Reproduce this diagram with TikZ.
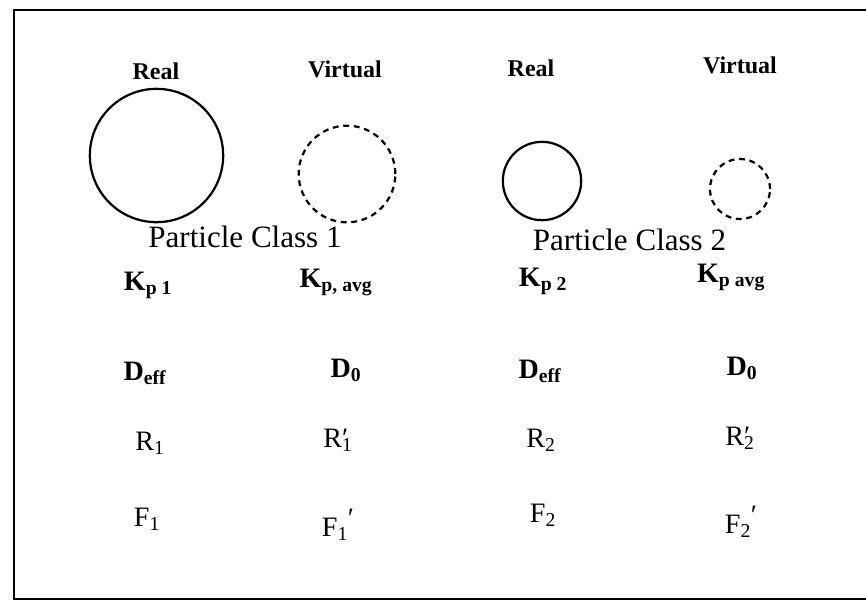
\documentclass[tikz,border=0pt]{standalone}
\usepackage{fontspec}
\setmainfont{Liberation Serif}
\usetikzlibrary{positioning}
\tikzset{
  head/.style={font=\fontsize{20.5}{24}\selectfont\bfseries},
  clsname/.style={font=\fontsize{26.5}{30}\selectfont},
  qty/.style={font=\fontsize{24}{28}\selectfont\bfseries,inner sep=0pt},
  qtyr/.style={font=\fontsize{24}{28}\selectfont,inner sep=0pt},
  realp/.style={circle,draw,line width=1.9pt,inner sep=0pt,outer sep=0pt},
  virtp/.style={circle,draw,line width=1.9pt,dash pattern=on 5pt off 4pt,inner sep=0pt,outer sep=0pt},
  frame/.style={line width=1.8pt}
}
\begin{document}
\begin{tikzpicture}[x=0.03cm,y=-0.03cm]
\useasboundingbox (0,0) rectangle (866,603);
% outer frame, open at the right
\coordinate (ftr) at (866,10);
\coordinate (ftl) at (14,10);
\coordinate (fbl) at (14,599);
\coordinate (fbr) at (866,599);
\draw[frame] (ftr) -- (ftl) -- (fbl) -- (fbr);

% column heads
\node[head,anchor=base] (real1) at (156,79) {Real};
\node[head,anchor=base] (virt1) at (345,77) {Virtual};
\node[head,anchor=base] (real2) at (531,76) {Real};
\node[head,anchor=base] (virt2) at (740,73) {Virtual};

% particles
\node[realp,minimum size=4.0cm] (ring1) at (156.5,155.5) {};
\node[virtp,minimum size=2.9cm] (vring1) at (347,174) {};
\node[realp,minimum size=2.35cm] (ring2) at (542,181) {};
\node[virtp,minimum size=1.8cm] (vring2) at (740,189) {};

% class names
\node[clsname,anchor=base] (class1) at (245,247) {Particle Class 1};
\node[clsname,anchor=base] (class2) at (629.5,250) {Particle Class 2};

% partition coefficients
\node[qty,anchor=base] (kp1) at (148,290) {K\textsubscript{p 1}};
\node[qty,anchor=base] (kpavg1) at (336,287) {K\textsubscript{p, avg}};
\node[qty,anchor=base] (kp2) at (543,286) {K\textsubscript{p 2}};
\node[qty,anchor=base] (kpavg2) at (731,282) {K\textsubscript{p avg}};

% diffusivities
\node[qty,anchor=base] (deff1) at (145,380) {D\textsubscript{eff}};
\node[qty,anchor=base] (dzero1) at (346,377) {D\textsubscript{0}};
\node[qty,anchor=base] (deff2) at (540,378) {D\textsubscript{eff}};
\node[qty,anchor=base] (dzero2) at (742,375) {D\textsubscript{0}};

% radii
\node[qtyr,anchor=base] (r1) at (150,450) {R\textsubscript{1}};
\node[qtyr,anchor=base] (rp1) at (338,447) {R\rlap{′}\textsubscript{1}};
\node[qtyr,anchor=base] (r2) at (541,447) {R\textsubscript{2}};
\node[qtyr,anchor=base] (rp2) at (740,445) {R\rlap{′}\textsubscript{2}};

% fractions
\node[qtyr,anchor=base] (f1) at (147,526) {F\textsubscript{1}};
\node[qtyr,anchor=base] (fp1) at (338,536) {F\textsubscript{1}\raisebox{0.3em}{′}};
\node[qtyr,anchor=base] (f2) at (543,522) {F\textsubscript{2}};
\node[qtyr,anchor=base] (fp2) at (741,533) {F\textsubscript{2}\raisebox{0.3em}{′}};
\end{tikzpicture}
\end{document}
